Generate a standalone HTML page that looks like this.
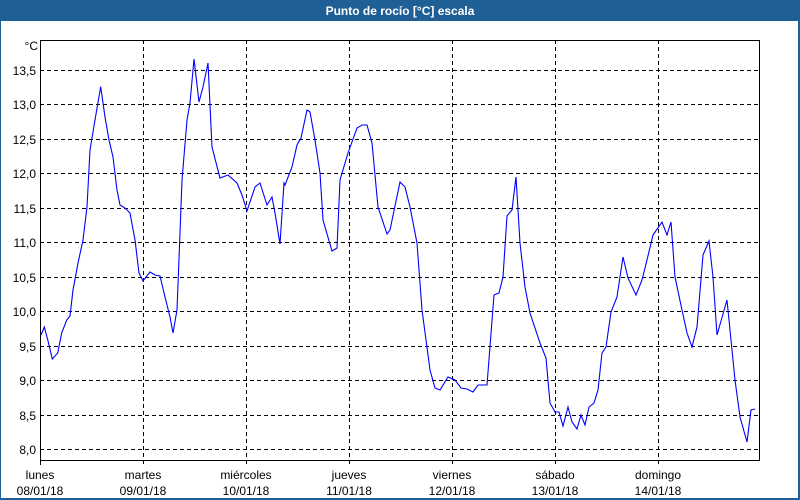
<!DOCTYPE html>
<html><head><meta charset="utf-8"><style>
html,body{margin:0;padding:0;background:#fff;}
svg{display:block;font-family:"Liberation Sans",sans-serif;}
</style></head><body>
<svg width="800" height="500" viewBox="0 0 800 500">
<rect x="0" y="0" width="800" height="500" fill="#1e6096"/>
<rect x="1" y="21" width="797" height="477" fill="#fff"/>
<text x="400" y="15" fill="#fff" font-size="12" font-weight="bold" text-anchor="middle">Punto de rocío [°C] escala</text>
<g stroke="#000" stroke-width="1" stroke-dasharray="4,3" fill="none">
<line x1="40" y1="70.5" x2="760" y2="70.5"/>
<line x1="40" y1="104.5" x2="760" y2="104.5"/>
<line x1="40" y1="139.5" x2="760" y2="139.5"/>
<line x1="40" y1="173.5" x2="760" y2="173.5"/>
<line x1="40" y1="208.5" x2="760" y2="208.5"/>
<line x1="40" y1="242.5" x2="760" y2="242.5"/>
<line x1="40" y1="277.5" x2="760" y2="277.5"/>
<line x1="40" y1="311.5" x2="760" y2="311.5"/>
<line x1="40" y1="346.5" x2="760" y2="346.5"/>
<line x1="40" y1="380.5" x2="760" y2="380.5"/>
<line x1="40" y1="415.5" x2="760" y2="415.5"/>
<line x1="40" y1="449.5" x2="760" y2="449.5"/>
<line x1="143.5" y1="40" x2="143.5" y2="465"/>
<line x1="246.5" y1="40" x2="246.5" y2="465"/>
<line x1="349.5" y1="40" x2="349.5" y2="465"/>
<line x1="452.5" y1="40" x2="452.5" y2="465"/>
<line x1="555.5" y1="40" x2="555.5" y2="465"/>
<line x1="658.5" y1="40" x2="658.5" y2="465"/>
</g>
<rect x="40.5" y="40.5" width="719" height="420" fill="none" stroke="#000" stroke-width="1"/>
<line x1="40.5" y1="460" x2="40.5" y2="465" stroke="#000"/>
<g font-size="12" fill="#000" text-anchor="end">
<text x="38" y="50">°C</text>
<text x="36" y="75">13,5</text>
<text x="36" y="109">13,0</text>
<text x="36" y="144">12,5</text>
<text x="36" y="178">12,0</text>
<text x="36" y="213">11,5</text>
<text x="36" y="247">11,0</text>
<text x="36" y="282">10,5</text>
<text x="36" y="316">10,0</text>
<text x="36" y="351">9,5</text>
<text x="36" y="385">9,0</text>
<text x="36" y="420">8,5</text>
<text x="36" y="454">8,0</text>
</g>
<g font-size="12" fill="#000" text-anchor="middle">
<text x="40" y="479">lunes</text><text x="40" y="495">08/01/18</text>
<text x="143" y="479">martes</text><text x="143" y="495">09/01/18</text>
<text x="246" y="479">miércoles</text><text x="246" y="495">10/01/18</text>
<text x="349" y="479">jueves</text><text x="349" y="495">11/01/18</text>
<text x="452" y="479">viernes</text><text x="452" y="495">12/01/18</text>
<text x="555" y="479">sábado</text><text x="555" y="495">13/01/18</text>
<text x="658" y="479">domingo</text><text x="658" y="495">14/01/18</text>
</g>
<polyline fill="none" stroke="#0000ff" stroke-width="1.1" points="
41,335 44.3,327 48.3,342 52.3,359 57.7,353 61.7,333 66.7,320 70,316 73,290 78,263 83,240 87,207 90,150 95,120 100.7,86.7 105,117 109,140 113,157 117,190 120,205 125,208 130,213 135,240 139,273 143,281 150,272 155,275 160,276 165,297 170,317 173,333 177,310 180,233 182,180 187,120 190,103 194,59 199,102 203,87 208,63 212,147 220,178 228,175 237,183 242,195 247,211 255,187 260,183 267,205 272,197 275,213 280,244 284,183
285,185 292,167 297,145 301,138 307,110 310,112 315,140 320,173 323,220 332,251 337,248 340,180 348,153 357,128 362,125 367,125 372,143 378,207 387,234 390,230 400,182 405,187 410,207 417,243 422,310 430,370 435,388 440,390 448,377 455,380 461,388 467,389 473,392 478,385 487,385 494,295 499,293 503,277 507,216 512,210 516,177 520,243 525,287 530,313 540,343 546,358 550,403 555,412 559,412 563,426 568,407 572,422 577,429 581,415 585,425 589,407 594,403 598,390 602,353 606,347 611,312 617,297 623,257 628,278 636,295 642,280 647,260 653,235 662,222 667,235 671,222 675,277 682,310 687,333 692,347 697,327 703,255 709,241 713,277 717,335 727,300 735,380 740,417 747,442 751,410 755,409"/>
</svg>
</body></html>
